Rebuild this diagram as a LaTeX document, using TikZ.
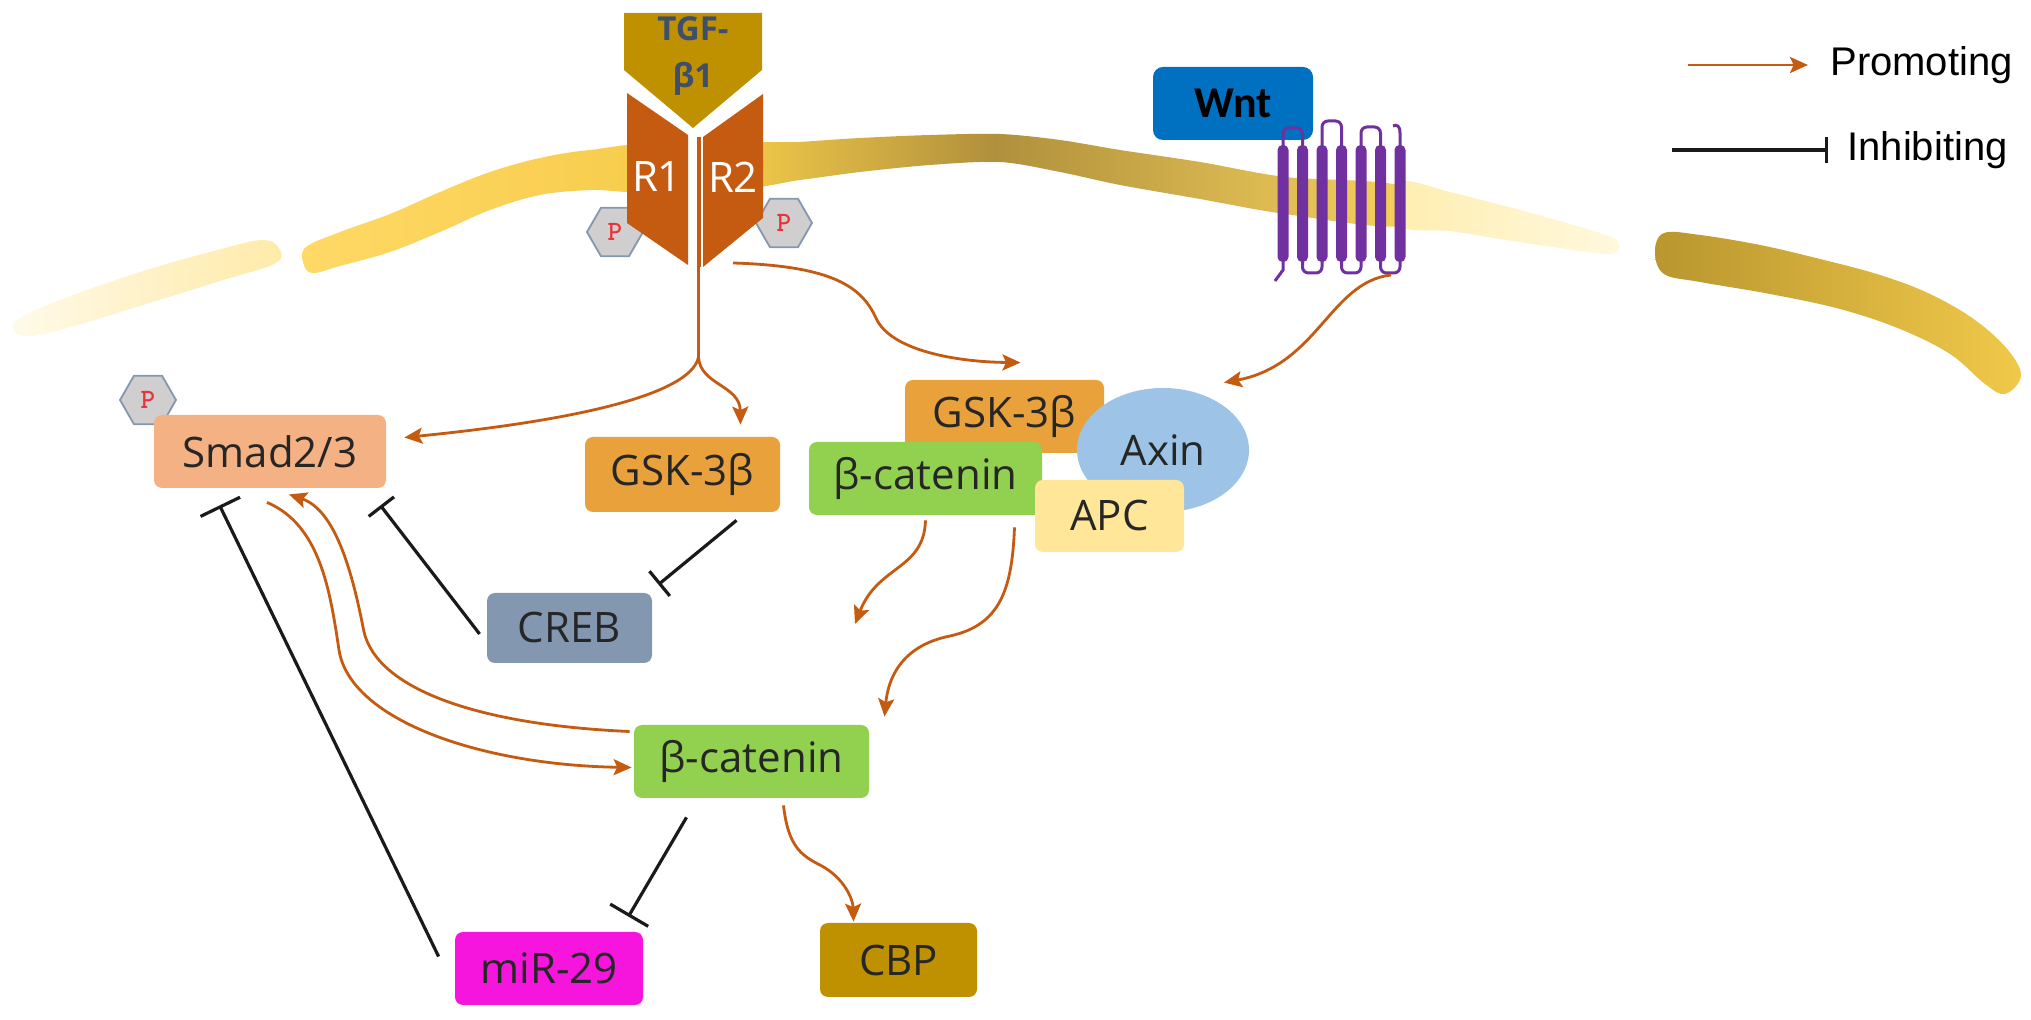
\documentclass[tikz,border=0pt]{standalone}
\usepackage{fontspec}
\setmainfont{Open Sans}
\newfontfamily\legfont{Liberation Sans}
\newfontfamily\wntfont{Carlito}
\usetikzlibrary{arrows.meta,shapes.geometric,calc}
\definecolor{orng}{HTML}{C55A11}
\definecolor{inhc}{HTML}{1A1A1A}
\definecolor{txt}{HTML}{262626}
\definecolor{smadc}{HTML}{F4B183}
\definecolor{gskc}{HTML}{E9A23B}
\definecolor{crebc}{HTML}{8497B0}
\definecolor{bcatc}{HTML}{92D050}
\definecolor{axinc}{HTML}{9DC3E6}
\definecolor{apcc}{HTML}{FFE699}
\definecolor{mirc}{HTML}{F515DC}
\definecolor{cbpc}{HTML}{BF9000}
\definecolor{wntc}{HTML}{0070C0}
\definecolor{tgfc}{HTML}{BF9000}
\definecolor{tgftxt}{HTML}{3F4F6A}
\definecolor{recc}{HTML}{C55A11}
\definecolor{tmp}{HTML}{7030A0}
\definecolor{hexfill}{HTML}{D0CECE}
\definecolor{hexline}{HTML}{8497B0}
\definecolor{pred}{HTML}{E8333A}
\definecolor{memA}{HTML}{F2CA4A}
\definecolor{memD}{HTML}{B0903C}
\definecolor{memB}{HTML}{F6D25E}
\definecolor{memY}{HTML}{FFD966}
\definecolor{memY2}{HTML}{F7CC4C}
\definecolor{palL}{HTML}{FFEEB0}
\definecolor{palR}{HTML}{FFF8DE}
\definecolor{faintL}{HTML}{FFFAEA}
\definecolor{faintR}{HTML}{FFEAA8}
\definecolor{darkL}{HTML}{B9962F}
\definecolor{darkR}{HTML}{F0C94A}
\pgfdeclarehorizontalshading{memmid}{100bp}{color(0bp)=(memA); color(25bp)=(memA); color(44bp)=(memD); color(75bp)=(memB); color(100bp)=(memB)}
\tikzset{
  lbl/.style={rounded corners=4pt, inner sep=0pt, text=txt, font=\fontsize{21}{25}\selectfont},
  prom/.style={draw=orng, line width=1.4pt, -{Stealth[length=9pt,width=8pt,inset=1.8pt]}},
  promline/.style={draw=orng, line width=1.4pt},
  inh/.style={draw=inhc, line width=1.6pt},
  hexp/.style={regular polygon, regular polygon sides=6, minimum size=28pt, inner sep=0pt,
    fill=hexfill, draw=hexline, line width=0.9pt, text=pred,
    font=\ttfamily\bfseries\fontsize{14}{14}\selectfont},
  tmloop/.style={draw=tmp, line width=1.5pt, rounded corners=3pt},
  rtext/.style={text=white, inner sep=0pt, font=\fontsize{21}{25}\selectfont},
  legtext/.style={anchor=west, inner sep=0pt, text=black, font=\legfont\fontsize{20}{24}\selectfont},
}
\begin{document}
\begin{tikzpicture}[x=0.5pt,y=-0.5pt]
\useasboundingbox (0,0) rectangle (2031,1020);

% ---------- membrane ----------
\path[left color=faintL, right color=faintR] plot[smooth cycle, tension=0.6] coordinates
  {(15,322) (60,300) (140,272) (210,252) (262,240) (280,250) (274,264) (220,281) (140,306) (60,330) (22,336)};
\path[left color=memY, right color=memY2] plot[smooth cycle, tension=0.6] coordinates
  {(303,262) (306,247) (340,232) (390,214) (440,192) (490,172) (540,158) (590,150) (650,147) (650,189) (590,190) (540,195) (490,210) (440,232) (390,252) (340,266) (312,273)};
\path[shading=memmid] plot[smooth cycle, tension=0.5] coordinates
  {(745,146) (800,142) (860,138) (930,135) (1000,134) (1060,140) (1120,150) (1200,162) (1285,177) (1400,186) (1400,226) (1285,214) (1200,199) (1120,185) (1060,172) (1000,162) (930,165) (860,172) (800,180) (745,186)};
\path[left color=palL, right color=palR] plot[smooth cycle, tension=0.5] coordinates
  {(1400,182) (1450,192) (1520,210) (1580,227) (1617,240) (1612,254) (1560,248) (1500,239) (1450,231) (1400,226)};
\path[left color=darkL, right color=darkR] plot[smooth cycle, tension=0.6] coordinates
  {(1655,252) (1664,233) (1700,235) (1760,245) (1820,259) (1880,275) (1930,294) (1975,320) (2008,350) (2021,376) (2005,394) (1985,384) (1950,354) (1900,329) (1840,309) (1770,294) (1700,282) (1664,274)};

% ---------- TGF receptor ----------
\node[hexp] (hexL) at (615,232) {P};
\node[hexp] (hexR) at (784,223) {P};
\fill[recc] (627,93) -- (688,135) -- (688,265) -- (627,223) -- cycle;
\fill[recc] (703,137) -- (763,94) -- (763,218) -- (703,267) -- cycle;
\node[rtext] (r1) at (657,177) {R1};
\node[rtext] (r2) at (733,177) {R2};
\fill[tgfc] (624,13) -- (762,13) -- (762,70) -- (693,128) -- (624,70) -- cycle;
\node[text=tgftxt, align=center, inner sep=0pt, font=\bfseries\fontsize{16.5}{23.5}\selectfont] (tgf) at (693,56) {TGF-\\β1};
\fill[orng] (696.5,137) rectangle (701,267);

% ---------- Wnt and its receptor ----------
\node[rounded corners=5pt, fill=wntc, minimum width=80pt, minimum height=36.5pt, inner sep=0pt,
  text=black, font=\wntfont\bfseries\fontsize{22}{26}\selectfont] (wnt) at (1233,103.5) {Wnt};
\foreach \i in {0,...,6} {
  \pgfmathsetmacro\bx{1283+19.5*\i}
  \fill[tmp, rounded corners=2.5pt] (\bx-5.5,145) rectangle (\bx+5.5,262);
}
\draw[tmloop] (1283,147) -- (1283,128) -- (1302.5,128) -- (1302.5,147);
\draw[tmloop] (1322,147) -- (1322,121) -- (1341.5,121) -- (1341.5,147);
\draw[tmloop] (1361,147) -- (1361,127) -- (1380.5,127) -- (1380.5,147);
\draw[draw=tmp, line width=1.5pt] (1400,147) -- (1400,133) .. controls (1400,126) and (1397,124) .. (1393,126);
\draw[tmloop] (1302.5,260) -- (1302.5,273) -- (1322,273) -- (1322,260);
\draw[tmloop] (1341.5,260) -- (1341.5,273) -- (1361,273) -- (1361,260);
\draw[tmloop] (1380.5,260) -- (1380.5,273) -- (1400,273) -- (1400,260);
\draw[draw=tmp, line width=1.5pt] (1283,260) -- (1283,270) -- (1275,281);

% ---------- boxes ----------
\node[hexp] (hexS) at (148,400) {P};
\node[lbl, fill=smadc, minimum width=116pt, minimum height=36.5pt] (smad) at (270,451.5) {Smad2/3};
\node[lbl, fill=gskc, minimum width=97.5pt, minimum height=37.5pt] (gskL) at (682.5,474.5) {GSK-3β};
\node[lbl, fill=crebc, minimum width=82.5pt, minimum height=35pt] (creb) at (569.5,628) {CREB};
\node[lbl, fill=gskc, minimum width=99.5pt, minimum height=36.5pt] (gskC) at (1004.5,416.5) {GSK-3β};
\node[ellipse, fill=axinc, minimum width=86pt, minimum height=62pt, inner sep=0pt, text=txt,
  font=\fontsize{21}{25}\selectfont] (axin) at (1163,450) {Axin};
\node[lbl, fill=bcatc, minimum width=116.5pt, minimum height=36.5pt] (bcC) at (925.5,478.5) {β-catenin};
\node[lbl, fill=apcc, minimum width=74.5pt, minimum height=36pt] (apc) at (1109.5,516) {APC};
\node[lbl, fill=bcatc, minimum width=117.5pt, minimum height=36.5pt] (bcL) at (751.5,761.5) {β-catenin};
\node[lbl, fill=mirc, minimum width=94pt, minimum height=36.5pt] (mir) at (549,968.5) {miR-29};
\node[lbl, fill=cbpc, minimum width=78.5pt, minimum height=37pt] (cbp) at (898.5,960) {CBP};

% ---------- connectors ----------
\coordinate (stemtop) at (698.5,265);
\coordinate (split) at (698.5,357);
\coordinate (r2out) at (733,263);
\coordinate (wntout) at (1391,275);
\coordinate (freeend) at (855,624);
\draw[promline] (stemtop) -- (split);
\draw[prom] (split) .. controls (692,390) and (600,418) .. ($(smad.east)+(18,-14)$);
\draw[prom] (split) .. controls (700,385) and (740,385) .. ($(gskL.north)+(58,-12)$);
\draw[prom] (r2out) .. controls (835,266) and (862,288) .. (876,318)
  .. controls (890,350) and (955,362) .. ($(gskC.north)+(16,-17)$);
\draw[prom] (wntout) .. controls (1330,282) and (1318,365) .. ($(axin.north)+(61,-5)$);
\draw[prom] ($(bcC.south)+(0,5)$) .. controls (924,570) and (878,565) .. (freeend);
\draw[prom] ($(bcC.south)+(89,12)$) .. controls (1012,590) and (1000,625) .. (950,636)
  .. controls (900,646) and (888,680) .. ($(bcL.north)+(133,-8)$);
\draw[prom] ($(bcL.west)+(-4,-30)$) .. controls (480,725) and (378,690) .. (364,632)
  .. controls (352,570) and (335,510) .. ($(smad.south)+(19,6)$);
\draw[prom] ($(smad.south)+(-3,14)$) .. controls (320,525) and (330,590) .. (339,650)
  .. controls (350,720) and (480,765) .. ($(bcL.west)+(-2,6)$);
\draw[prom] ($(bcL.south)+(32,7)$) .. controls (788,845) and (800,855) .. (820,865)
  .. controls (845,878) and (853,900) .. ($(cbp.north)+(-45,-1)$);
\draw[inh, -{Bar[width=16pt]}] ($(creb.west)+(-7,6)$) -- ($(smad.south east)+(-6,17)$);
\draw[inh, -{Bar[width=16pt]}] ($(gskL.south)+(54,8)$) -- ($(creb.north east)+(6,-8)$);
\draw[inh, -{Bar[width=22pt]}] ($(mir.west)+(-16,-12)$) -- ($(smad.south west)+(66,17)$);
\draw[inh, -{Bar[width=22pt]}] ($(bcL.south)+(-65,19)$) -- ($(mir.north east)+(-15,-15)$);

% ---------- legend ----------
\node[legtext] (promtext) at (1830,65) {Promoting};
\node[legtext] (inhtext) at (1847,150) {Inhibiting};
\coordinate (la1) at (1688,65);
\coordinate (lb1) at (1672,150);
\draw[prom] (la1) -- ($(promtext.west)+(-22,0)$);
\draw[inh, -{Bar[width=13pt]}] (lb1) -- ($(inhtext.west)+(-19,0)$);
\end{tikzpicture}
\end{document}
